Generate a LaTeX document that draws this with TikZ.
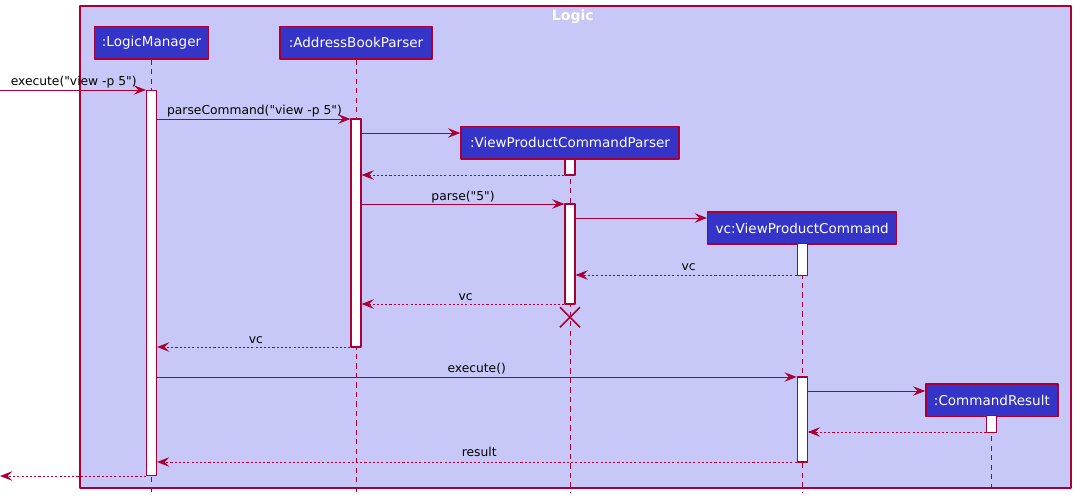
\documentclass[tikz,border=0pt]{standalone}
\usepackage{fontspec}
\newfontfamily\umlfont{DejaVu Sans}
\usetikzlibrary{arrows.meta}
\definecolor{umlred}{RGB}{168,0,54}
\definecolor{umlblue}{RGB}{52,52,200}
\definecolor{umlframe}{RGB}{200,200,248}
\begin{document}
\begin{tikzpicture}[x=0.02cm, y=-0.02cm, line join=round,
	participant/.style={draw=umlred, line width=0.8pt, fill=umlblue, text=white, font=\umlfont\fontsize{7.7}{9}\selectfont, minimum height=0.645cm, inner sep=0pt},
	actbar/.style={draw=umlred, line width=0.6pt, fill=white, minimum width=0.2cm, inner sep=0pt},
	lifeline/.style={umlred, line width=0.5pt, dash pattern=on 3pt off 2.4pt},
	msg/.style={umlred, line width=0.55pt, -{Stealth[length=7pt,width=5.4pt,inset=2.6pt]}},
	reply/.style={msg, dash pattern=on 1.2pt off 1.2pt},
	msglabel/.style={font=\umlfont\fontsize{7}{8}\selectfont, text=black, anchor=base, inner sep=0pt}]
	\useasboundingbox (0,0) rectangle (1076,500);
	\draw[umlred, line width=0.7pt, fill=umlframe] (80,6) rectangle (1071,488);
	\node[font=\umlfont\bfseries\fontsize{8}{10}\selectfont, text=white, anchor=base, inner sep=0pt] (title) at (572.8,20.7) {Logic};
	% participants
	\node[participant, minimum width=2.28cm] (lm) at (151.5,42.9) {:LogicManager};
	\node[participant, minimum width=3.04cm] (abp) at (356,42.9) {:AddressBookParser};
	\node[participant, minimum width=4.36cm] (vpcp) at (570,142.9) {:ViewProductCommandParser};
	\node[participant, minimum width=3.78cm] (vpc) at (802.2,228) {vc:ViewProductCommand};
	\node[participant, minimum width=2.64cm] (cr) at (991.9,400.3) {:CommandResult};
	\foreach \p in {lm,abp,vpcp,vpc,cr}
		\draw[lifeline] (\p.south) -- (\p.south |- 0,493);
	% activations
	\node[actbar, minimum height=7.72cm] (lmA) at (lm |- 0,283) {};
	\node[actbar, minimum height=4.56cm] (abpA) at (abp |- 0,233) {};
	\node[actbar, minimum height=0.32cm] (vpcpA) at (vpcp |- 0,167) {};
	\node[actbar, minimum height=2cm] (vpcpB) at (vpcp |- 0,254) {};
	\node[actbar, minimum height=0.63cm] (vpcA) at (vpc |- 0,259.3) {};
	\node[actbar, minimum height=1.7cm] (vpcB) at (vpc |- 0,419.5) {};
	\node[actbar, minimum height=0.33cm] (crA) at (cr |- 0,423.8) {};
	% messages
	\coordinate (entry) at (0,90);
	\coordinate (exit) at (0,476);
	\draw[msg] (entry) -- (lmA.west |- entry);
	\node[msglabel] (m1) at (73.7,85.5) {execute("view -p 5")};
	\draw[msg] (lmA.east |- 0,119) -- (abpA.west |- 0,119);
	\node[msglabel] (m2) at (254.5,114.5) {parseCommand("view -p 5")};
	\draw[msg] (abpA.east |- 0,133) -- (vpcp.west |- 0,133);
	\draw[reply] (vpcpA.west |- 0,175) -- (abpA.east |- 0,175);
	\draw[msg] (abpA.east |- 0,204) -- (vpcpB.west |- 0,204);
	\node[msglabel] (m3) at (463,200) {parse("5")};
	\draw[msg] (vpcpB.east |- 0,218) -- (vpc.west |- 0,218);
	\draw[reply] (vpcA.west |- 0,275) -- (vpcpB.east |- 0,275);
	\node[msglabel] (m4) at (688.7,270.7) {vc};
	\draw[reply] (vpcpB.west |- 0,304) -- (abpA.east |- 0,304);
	\node[msglabel] (m5) at (465.7,300) {vc};
	\coordinate (vpcpX) at (vpcp |- 0,317.3);
	\draw[umlred, line width=0.9pt] (vpcpX) +(-10,-10) -- +(10,10) +(-10,10) -- +(10,-10);
	\draw[reply] (abpA.west |- 0,347) -- (lmA.east |- 0,347);
	\node[msglabel] (m6) at (255.8,343.3) {vc};
	\draw[msg] (lmA.east |- 0,377) -- (vpcB.west |- 0,377);
	\node[msglabel] (m7) at (476.7,372.3) {execute()};
	\draw[msg] (vpcB.east |- 0,391) -- (cr.west |- 0,391);
	\draw[reply] (crA.west |- 0,432) -- (vpcB.east |- 0,432);
	\draw[reply] (vpcB.west |- 0,462) -- (lmA.east |- 0,462);
	\node[msglabel] (m8) at (479.2,456.7) {result};
	\draw[reply] (lmA.west |- exit) -- (exit);
\end{tikzpicture}
\end{document}
